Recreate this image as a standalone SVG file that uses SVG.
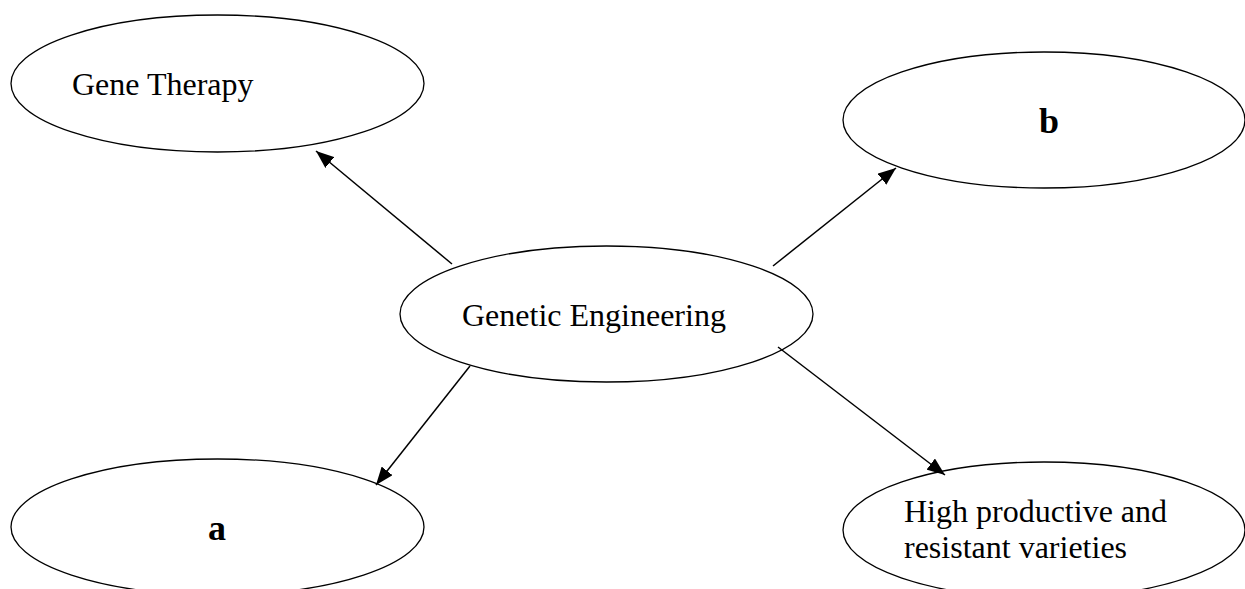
<svg xmlns="http://www.w3.org/2000/svg" width="1245" height="589" viewBox="0 0 1245 589">
<defs>
<style>
.node ellipse{fill:#fff;stroke:#000;stroke-width:1.3}
text{font-family:"Liberation Serif","Times New Roman",serif;fill:#000}
.t{font-size:32px}
.b{font-size:36px;font-weight:bold}
.edge line{stroke:#000;stroke-width:1.5}
</style>
<marker id="ah" markerUnits="userSpaceOnUse" markerWidth="20" markerHeight="14" refX="18" refY="7" orient="auto">
<path d="M0,0 L18,7 L0,14 Z" fill="#000"/>
</marker>
</defs>
<rect width="1245" height="589" fill="#fff"/>
<g id="gene-therapy" class="node">
<ellipse cx="217.5" cy="83.5" rx="206.5" ry="68.5"/>
<text class="t" x="72" y="95">Gene Therapy</text>
</g>
<g id="b" class="node">
<ellipse cx="1044" cy="120" rx="201" ry="68"/>
<text class="b" x="1049" y="133" text-anchor="middle">b</text>
</g>
<g id="genetic-engineering" class="node">
<ellipse cx="606.5" cy="314" rx="206.5" ry="68"/>
<text class="t" x="462" y="326">Genetic Engineering</text>
</g>
<g id="a" class="node">
<ellipse cx="217.5" cy="527" rx="206.5" ry="68"/>
<text class="b" x="217" y="540" text-anchor="middle">a</text>
</g>
<g id="high-productive" class="node">
<ellipse cx="1044" cy="530" rx="201" ry="68"/>
<text class="t" x="904" y="522">High productive and</text>
<text class="t" x="904" y="558">resistant varieties</text>
</g>
<g id="connectors" class="edge">
<line x1="452" y1="264" x2="316" y2="151" marker-end="url(#ah)"/>
<line x1="773" y1="266" x2="896" y2="168" marker-end="url(#ah)"/>
<line x1="470" y1="366" x2="376" y2="485" marker-end="url(#ah)"/>
<line x1="778" y1="347" x2="945" y2="475" marker-end="url(#ah)"/>
</g>
</svg>
